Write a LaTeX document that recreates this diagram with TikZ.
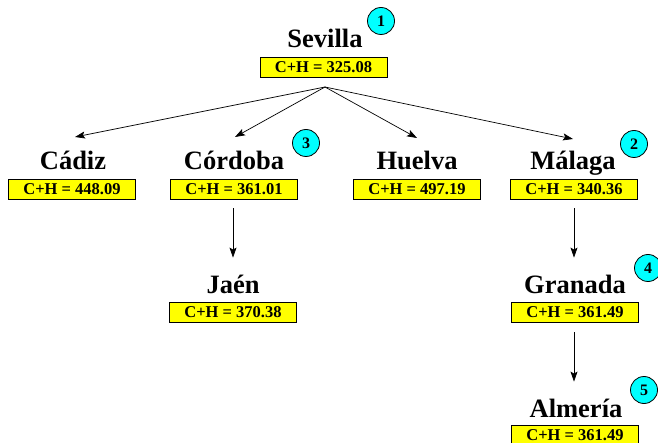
\documentclass[tikz,border=0pt]{standalone}
\usepackage{fontspec}
\setmainfont{Liberation Serif}
\usetikzlibrary{arrows.meta}
\definecolor{costfill}{RGB}{255,255,0}
\definecolor{orderfill}{RGB}{0,255,255}
\begin{document}
\begin{tikzpicture}[x=1pt,y=-1pt,
  city/.style={font=\bfseries\fontsize{26.5}{28}\selectfont, inner sep=0pt, anchor=base},
  cost/.style={draw, line width=0.8pt, fill=costfill, font=\bfseries\fontsize{16.5}{18}\selectfont,
               minimum width=127pt, minimum height=20pt, inner sep=0pt},
  order/.style={circle, draw, line width=0.8pt, fill=orderfill, minimum size=27pt, inner sep=0pt,
                font=\bfseries\fontsize{16}{18}\selectfont},
  link/.style={-{Stealth[length=10pt,width=7pt,inset=2pt]}, line width=0.7pt}]
\useasboundingbox (0,0) rectangle (658,443);

% Root
\node[city] (sev) at (325,48) {Sevilla};
\node[cost] (sevc) at (323.5,67) {C+H = 325.08};
\node[order] (o1) at (381,21) {1};
\coordinate (fork) at (325,87);

% First level
\node[city] (cad) at (73,170) {Cádiz};
\node[cost] (cadc) at (72,189) {C+H = 448.09};
\node[city] (cor) at (234,170) {Córdoba};
\node[cost] (corc) at (234,189) {C+H = 361.01};
\node[order] (o3) at (306,143) {3};
\node[city] (hue) at (417,170) {Huelva};
\node[cost] (huec) at (417,189) {C+H = 497.19};
\node[city] (mal) at (573,170) {Málaga};
\node[cost] (malc) at (574,189) {C+H = 340.36};
\node[order] (o2) at (634,144) {2};

% Second level
\node[city] (jae) at (233,294) {Jaén};
\node[cost] (jaec) at (233,312) {C+H = 370.38};
\node[city] (gra) at (575,294) {Granada};
\node[cost] (grac) at (575,312) {C+H = 361.49};
\node[order] (o4) at (648,268) {4};

% Third level
\node[city] (alm) at (576,417) {Almería};
\node[cost] (almc) at (575,435) {C+H = 361.49};
\node[order] (o5) at (644,390) {5};

% Arrow tips above the first-level cities
\coordinate (cadt) at (75,137);
\coordinate (cort) at (235,137);
\coordinate (huet) at (417,138);
\coordinate (malt) at (573,139);

% Connectors
\draw[link] (fork) -- (cadt);
\draw[link] (fork) -- (cort);
\draw[link] (fork) -- (huet);
\draw[link] (fork) -- (malt);
\draw[link] ([xshift=-1pt,yshift=-9pt]corc.south) -- ([xshift=0pt,yshift=44pt]jaec.north);
\draw[link] ([yshift=-9pt]malc.south) -- ([xshift=-1pt,yshift=44pt]grac.north);
\draw[link] ([xshift=-1pt,yshift=-10pt]grac.south) -- ([xshift=-1pt,yshift=43pt]almc.north);
\end{tikzpicture}
\end{document}
